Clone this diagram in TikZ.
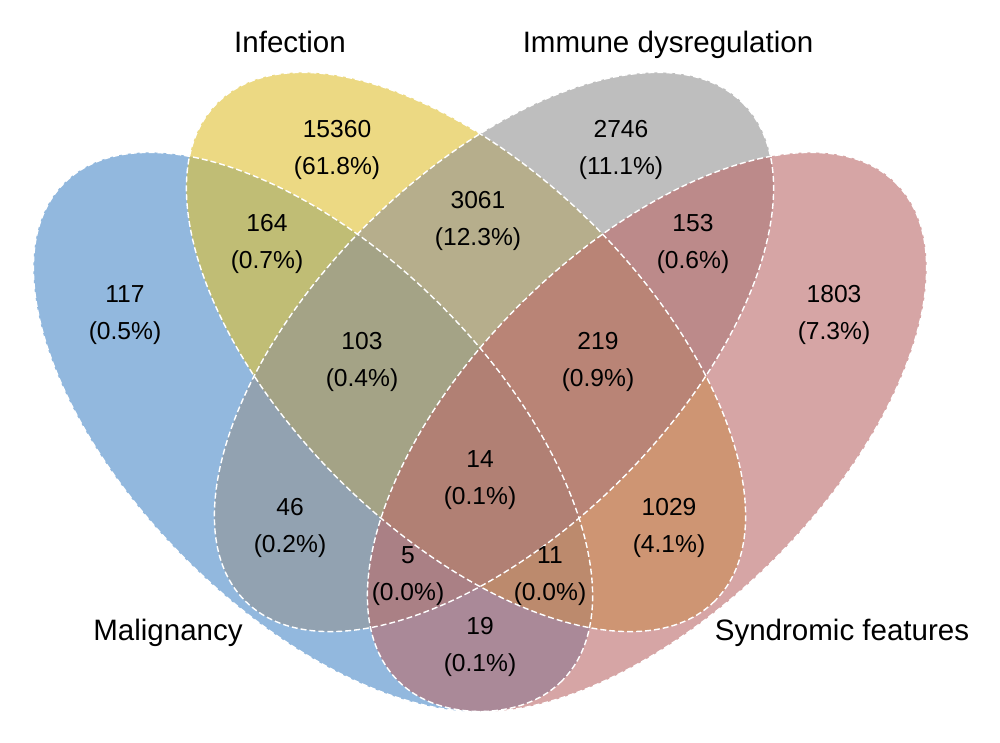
\documentclass[tikz,border=0pt]{standalone}
\usepackage{fontspec}
\setmainfont{Liberation Sans}
\usetikzlibrary{positioning}
\definecolor{malblue}{RGB}{73,137,200}
\definecolor{infyellow}{RGB}{223,192,48}
\definecolor{immgray}{RGB}{147,147,147}
\definecolor{synpink}{RGB}{187,105,105}

\begin{document}
\begin{tikzpicture}[x=0.2mm,y=-0.2mm,
  venn/.style={fill opacity=0.6},
  rim/.style={draw=white,dash pattern=on 3.4pt off 1.7pt,line width=0.8pt},
  lbl/.style={font=\fontsize{16.8}{20}\selectfont,inner sep=0pt,anchor=base},
  num/.style={font=\fontsize{14}{21}\selectfont,align=center,inner sep=0pt}]
\useasboundingbox (0,0) rectangle (1000,743);

% centres of the four sets
\coordinate (mal) at (313,432);
\coordinate (inf) at (466,352);
\coordinate (imm) at (494,352);
\coordinate (syn) at (647,432);

% filled sets
\fill[venn,malblue,rotate around={-45:(mal)}] (mal) ellipse [x radius=352,y radius=180];
\fill[venn,infyellow,rotate around={-45:(inf)}] (inf) ellipse [x radius=352,y radius=180];
\fill[venn,immgray,rotate around={45:(imm)}] (imm) ellipse [x radius=352,y radius=180];
\fill[venn,synpink,rotate around={45:(syn)}] (syn) ellipse [x radius=352,y radius=180];

% dashed outlines
\foreach \c/\a in {mal/-45,inf/-45,imm/45,syn/45}
  \draw[rim,rotate around={\a:(\c)}] (\c) ellipse [x radius=352,y radius=180];

% set labels
\node[lbl] (tInf) at (290,53) {Infection};
\node[lbl] (tImm) at (668,53) {Immune dysregulation};
\node[lbl] (tMal) at (168,640) {Malignancy};
\node[lbl] (tSyn) at (842,640) {Syndromic features};

% counts
\node[num] (rI) at (337,150) {15360\\(61.8\%)};
\node[num] (rD) at (621,150) {2746\\(11.1\%)};
\node[num] (rMI) at (267,244) {164\\(0.7\%)};
\node[num] (rID) at (478,221) {3061\\(12.3\%)};
\node[num] (rDS) at (693,244) {153\\(0.6\%)};
\node[num] (rM) at (125,315) {117\\(0.5\%)};
\node[num] (rS) at (834,315) {1803\\(7.3\%)};
\node[num] (rMID) at (362,362) {103\\(0.4\%)};
\node[num] (rIDS) at (598,362) {219\\(0.9\%)};
\node[num] (rMIDS) at (480,480) {14\\(0.1\%)};
\node[num] (rMD) at (290,528) {46\\(0.2\%)};
\node[num] (rIS) at (669,528) {1029\\(4.1\%)};
\node[num] (rMDS) at (408,576) {5\\(0.0\%)};
\node[num] (rMIS) at (550,576) {11\\(0.0\%)};
\node[num] (rMS) at (480,647) {19\\(0.1\%)};
\end{tikzpicture}
\end{document}
